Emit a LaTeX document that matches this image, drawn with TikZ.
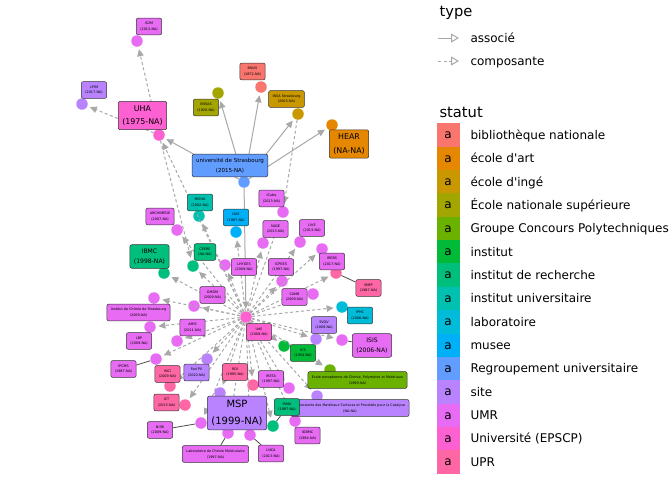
\documentclass[tikz,border=0pt]{standalone}
\usepackage{fontspec}
\setmainfont{DejaVu Sans}
\usetikzlibrary{arrows.meta}

\definecolor{bib}{HTML}{F8766D}
\definecolor{art}{HTML}{E58700}
\definecolor{inge}{HTML}{C99800}
\definecolor{ens}{HTML}{A3A500}
\definecolor{gcp}{HTML}{6BB100}
\definecolor{inst}{HTML}{00BA38}
\definecolor{irech}{HTML}{00BF7D}
\definecolor{iuniv}{HTML}{00C0AF}
\definecolor{labo}{HTML}{00BCD8}
\definecolor{musee}{HTML}{00B0F6}
\definecolor{regr}{HTML}{619CFF}
\definecolor{site}{HTML}{B983FF}
\definecolor{umr}{HTML}{E76BF3}
\definecolor{epscp}{HTML}{FD61D1}
\definecolor{upr}{HTML}{FF67A4}
\definecolor{edgegrey}{HTML}{A8A8A8}

\begin{document}
\begin{tikzpicture}[x=1pt,y=-1pt,
    pt/.style={circle,inner sep=0pt,minimum size=11.5pt},
    lab/.style={draw=black!80,line width=0.5pt,rounded corners=2pt,inner sep=4pt,
      align=center,font=\fontsize{3.4}{5.8}\selectfont},
    labmid/.style={lab,font=\fontsize{6.1}{10.2}\selectfont},
    labuniv/.style={lab,font=\fontsize{5.5}{9.4}\selectfont},
    labbig/.style={lab,font=\fontsize{7.9}{13.6}\selectfont},
    labhuge/.style={lab,font=\fontsize{10}{17}\selectfont},
    assoc/.style={draw=edgegrey,line width=1pt,shorten >=2.5pt,
      -{Triangle[length=7pt,width=6.5pt]}},
    compo/.style={assoc,dash pattern=on 3pt off 2.5pt},
    seg/.style={draw=black!70,line width=0.8pt},
    legtxt/.style={anchor=base west,font=\fontsize{12}{14}\selectfont},
    legtitle/.style={anchor=base west,font=\fontsize{14.7}{17}\selectfont}]
  \useasboundingbox (0,0) rectangle (672,480);

  %% points
  \node[pt,fill=regr]  (univ)      at (244,182) {};
  \node[pt,fill=art]   (hear)      at (332,125) {};
  \node[pt,fill=inge]  (insa)      at (298,114) {};
  \node[pt,fill=ens]   (ensas)     at (218,93)  {};
  \node[pt,fill=bib]   (bnus)      at (261,87)  {};
  \node[pt,fill=epscp] (uha)       at (159,135) {};
  \node[pt,fill=umr]   (is2m)      at (137,41)  {};
  \node[pt,fill=site]  (lpim)      at (82,104)  {};
  \node[pt,fill=epscp] (uds)       at (246,317) {};
  \node[pt,fill=umr]   (icube)     at (283,212) {};
  \node[pt,fill=umr]   (sage)      at (263,243) {};
  \node[pt,fill=umr]   (live)      at (300,242) {};
  \node[pt,fill=musee] (oas)       at (236,232) {};
  \node[pt,fill=iuniv] (misha)     at (199,216) {};
  \node[pt,fill=umr]   (archimede) at (177,230) {};
  \node[pt,fill=irech] (ceere)     at (193,266) {};
  \node[pt,fill=irech] (ibmc)      at (164,273) {};
  \node[pt,fill=umr]   (lhyges)    at (225,265) {};
  \node[pt,fill=umr]   (icpees)    at (282,281) {};
  \node[pt,fill=umr]   (irebs)     at (322,249) {};
  \node[pt,fill=upr]   (ibmp)      at (336,273) {};
  \node[pt,fill=umr]   (camb)      at (313,294) {};
  \node[pt,fill=labo]  (iphc)      at (342,307) {};
  \node[pt,fill=site]  (svqv)      at (316,339) {};
  \node[pt,fill=umr]   (isis)      at (342,340) {};
  \node[pt,fill=inst]  (ics)       at (284,346) {};
  \node[pt,fill=gcp]   (ecpm)      at (330,370) {};
  \node[pt,fill=site]  (lmspc)     at (317,396) {};
  \node[pt,fill=irech] (irma)      at (273,426) {};
  \node[pt,fill=umr]   (igbmc)     at (295,421) {};
  \node[pt,fill=umr]   (ireta)     at (289,388) {};
  \node[pt,fill=upr]   (rdi)       at (253,385) {};
  \node[pt,fill=site]  (msp)       at (220,393) {};
  \node[pt,fill=umr]   (lnca)      at (250,435) {};
  \node[pt,fill=umr]   (lcm)       at (228,433) {};
  \node[pt,fill=umr]   (ni3b)      at (201,423) {};
  \node[pt,fill=upr]   (ict)       at (185,405) {};
  \node[pt,fill=upr]   (inci)      at (170,386) {};
  \node[pt,fill=site]  (fedpv)     at (207,359) {};
  \node[pt,fill=umr]   (ipcms)     at (156,359) {};
  \node[pt,fill=umr]   (lbp)       at (150,327) {};
  \node[pt,fill=umr]   (amis)      at (177,341) {};
  \node[pt,fill=umr]   (ichs)      at (154,298) {};
  \node[pt,fill=umr]   (gmgm)      at (194,306) {};

  %% associé
  \path (univ) edge[assoc] (hear);
  \path (univ) edge[assoc] (insa);
  \path (univ) edge[assoc] (ensas);
  \path (univ) edge[assoc] (bnus);
  \path (univ) edge[assoc] (uha);
  \path (univ) edge[assoc] (uds);

  %% composante
  \path (uha)  edge[compo] (is2m);
  \path (uha)  edge[compo] (lpim);
  \path (uha)  edge[compo] (ceere);
  \path (insa) edge[compo] (icube);
  \path (uds)  edge[compo] (uha);
  \path (uds)  edge[compo] (archimede);
  \path (uds)  edge[compo] (misha);
  \path (uds)  edge[compo] (oas);
  \path (uds)  edge[compo] (ceere);
  \path (uds)  edge[compo] (ibmc);
  \path (uds)  edge[compo] (lhyges);
  \path (uds)  edge[compo] (icube);
  \path (uds)  edge[compo] (sage);
  \path (uds)  edge[compo] (live);
  \path (uds)  edge[compo] (icpees);
  \path (uds)  edge[compo] (irebs);
  \path (uds)  edge[compo] (ibmp);
  \path (uds)  edge[compo] (camb);
  \path (uds)  edge[compo] (iphc);
  \path (uds)  edge[compo] (svqv);
  \path (uds)  edge[compo] (isis);
  \path (uds)  edge[compo] (ics);
  \path (uds)  edge[compo] (ecpm);
  \path (uds)  edge[compo] (lmspc);
  \path (uds)  edge[compo] (irma);
  \path (uds)  edge[compo] (igbmc);
  \path (uds)  edge[compo] (ireta);
  \path (uds)  edge[compo] (rdi);
  \path (uds)  edge[compo] (msp);
  \path (uds)  edge[compo] (lnca);
  \path (uds)  edge[compo] (lcm);
  \path (uds)  edge[compo] (ni3b);
  \path (uds)  edge[compo] (ict);
  \path (uds)  edge[compo] (inci);
  \path (uds)  edge[compo] (fedpv);
  \path (uds)  edge[compo] (ipcms);
  \path (uds)  edge[compo] (lbp);
  \path (uds)  edge[compo] (amis);
  \path (uds)  edge[compo] (ichs);
  \path (uds)  edge[compo] (gmgm);

  %% labels
  \node[labuniv,fill=regr] (univL)  at (230,165.5) {université de Strasbourg\\(2015-NA)};
  \node[labbig,fill=art]   (hearL)  at (349,144)   {HEAR\\(NA-NA)};
  \node[lab,fill=inge]     (insaL)  at (286.5,99)  {INSA Strasbourg\\(2003-NA)};
  \node[lab,fill=ens]      (ensasL) at (206,107.5) {ENSAS\\(1920-NA)};
  \node[lab,fill=bib]      (bnusL)  at (252.5,71.5) {BNUS\\(1872-NA)};
  \node[labbig,fill=epscp] (uhaL)   at (142.5,115.5) {UHA\\(1975-NA)};
  \node[lab,fill=umr]      (is2mL)  at (149,26.5)  {IS2M\\(2013-NA)};
  \node[lab,fill=site]     (lpimL)  at (94,90)     {LPIM\\(2017-NA)};
  \node[lab,fill=epscp]    (udsL)   at (259,332)   {UdS\\(2009-NA)};
  \node[lab,fill=umr]      (icubeL) at (271.5,198.5) {ICube\\(2013-NA)};
  \node[lab,fill=umr]      (sageL)  at (275.5,229) {SAGE\\(2013-NA)};
  \node[lab,fill=umr]      (liveL)  at (312,228)   {LIVE\\(2013-NA)};
  \node[lab,fill=musee]    (oasL)   at (236,217.5) {OAS\\(1997-NA)};
  \node[lab,fill=iuniv]    (mishaL) at (200,202.5) {MISHA\\(2002-NA)};
  \node[lab,fill=umr]      (archimedeL) at (160,216.5) {ARCHIMEDE\\(2007-NA)};
  \node[lab,fill=irech]    (ceereL) at (205,252)   {CEERE\\(NA-NA)};
  \node[labmid,fill=irech] (ibmcL)  at (149.5,256.5) {IBMC\\(1998-NA)};
  \node[lab,fill=umr]      (lhygesL) at (244,267)  {LHYGES\\(2009-NA)};
  \node[lab,fill=umr]      (icpeesL) at (281,267)  {ICPEES\\(1997-NA)};
  \node[lab,fill=umr]      (irebsL) at (332,261.5) {IREBS\\(2017-NA)};
  \node[lab,fill=upr]      (ibmpL)  at (368.5,288) {IBMP\\(1987-NA)};
  \node[lab,fill=umr]      (cambL)  at (294.5,297) {CAMB\\(2009-NA)};
  \node[lab,fill=labo]     (iphcL)  at (360,315.5) {IPHC\\(2006-NA)};
  \node[lab,fill=site]     (svqvL)  at (324,325)   {SVQV\\(2009-NA)};
  \node[labmid,fill=umr]   (isisL)  at (372,345.5) {ISIS\\(2006-NA)};
  \node[lab,fill=inst]     (icsL)   at (303,353)   {ICS\\(1954-NA)};
  \node[lab,fill=gcp]      (ecpmL)  at (357.5,380) {Ecole européenne de Chimie, Polymères et Matériaux\\(1999-NA)};
  \node[lab,fill=site]     (lmspcL) at (350,408)   {Laboratoire des Matériaux Surfaces et Procédés pour la Catalyse\\(NA-NA)};
  \node[lab,fill=irech]    (irmaL)  at (287,407)   {IRMA\\(1997-NA)};
  \node[lab,fill=umr]      (igbmcL) at (307.5,435.5) {IGBMC\\(1994-NA)};
  \node[lab,fill=umr]      (iretaL) at (271,379)   {IRETA\\(1997-NA)};
  \node[lab,fill=upr]      (rdiL)   at (235,372)   {RDI\\(1995-NA)};
  \node[labhuge,fill=site] (mspL)   at (237,413)   {MSP\\(1999-NA)};
  \node[lab,fill=umr]      (lncaL)  at (271,453.5) {LNCA\\(2013-NA)};
  \node[lab,fill=umr]      (lcmL)   at (215.5,454) {Laboratoire de Chimie Moléculaire\\(1997-NA)};
  \node[lab,fill=umr]      (ni3bL)  at (160,430)   {NI3B\\(2009-NA)};
  \node[lab,fill=upr]      (ictL)   at (166.5,402.5) {ICT\\(2013-NA)};
  \node[lab,fill=upr]      (inciL)  at (167.5,374) {INCI\\(2009-NA)};
  \node[lab,fill=site]     (fedpvL) at (196.5,372.5) {Fed PV\\(2010-NA)};
  \node[lab,fill=umr]      (ipcmsL) at (123.5,369) {IPCMS\\(1987-NA)};
  \node[lab,fill=umr]      (lbpL)   at (139,341)   {LBP\\(2009-NA)};
  \node[lab,fill=umr]      (amisL)  at (192.5,327.5) {AMIS\\(2011-NA)};
  \node[lab,fill=umr]      (ichsL)  at (138.5,312.5) {Institut de Chimie de Strasbourg\\(2009-NA)};
  \node[lab,fill=umr]      (gmgmL)  at (212.5,295) {GMGM\\(2009-NA)};

  %% label segments
  \path (ipcmsL) edge[seg] (ipcms);
  \path (ni3bL)  edge[seg] (ni3b);
  \path (lcmL)   edge[seg] (lcm);
  \path (lncaL)  edge[seg] (lnca);
  \path (irmaL)  edge[seg] (irma);
  \path (isisL)  edge[seg] (isis);
  \path (ibmpL)  edge[seg] (ibmp);

  %%%%%%%%%%%%%%%%%%%%%%%%%%%%%%%%%%%%%%%%%%%%%%%%%%%%%%%%%%%
  %% legend: type
  \node[legtitle] (typeT) at (436,16) {type};
  \coordinate (k1a) at (438,38);
  \coordinate (k1b) at (459,38);
  \coordinate (k2a) at (438,61);
  \coordinate (k2b) at (459,61);
  \draw[draw=edgegrey,line width=1pt,-{Triangle[open,length=8pt,width=9pt]}] (k1a) -- (k1b);
  \draw[draw=edgegrey,line width=1pt,dash pattern=on 3pt off 2.5pt,-{Triangle[open,length=8pt,width=9pt]}] (k2a) -- (k2b);
  \node[legtxt] (assocT) at (467,42.3) {associé};
  \node[legtxt] (compoT) at (467,65.3) {composante};

  %% legend: statut
  \node[legtitle] (statutT) at (436,117) {statut};
  \foreach \col/\txt [count=\i from 0] in {bib/bibliothèque nationale,
      art/école d\textquotesingle art, inge/école d\textquotesingle ingé,
      ens/École nationale supérieure, gcp/Groupe Concours Polytechniques,
      inst/institut, irech/institut de recherche, iuniv/institut universitaire,
      labo/laboratoire, musee/musee, regr/Regroupement universitaire,
      site/site, umr/UMR, epscp/Université (EPSCP), upr/UPR}{
    \fill[\col] (436.5,{123.3+23.36*\i}) rectangle (459.5,{146.7+23.36*\i});
    \node[anchor=base,font=\fontsize{12}{14}\selectfont] at (448,{138.8+23.36*\i}) {a};
    \node[legtxt] at (467,{139.3+23.36*\i}) {\txt};
  }
\end{tikzpicture}
\end{document}
